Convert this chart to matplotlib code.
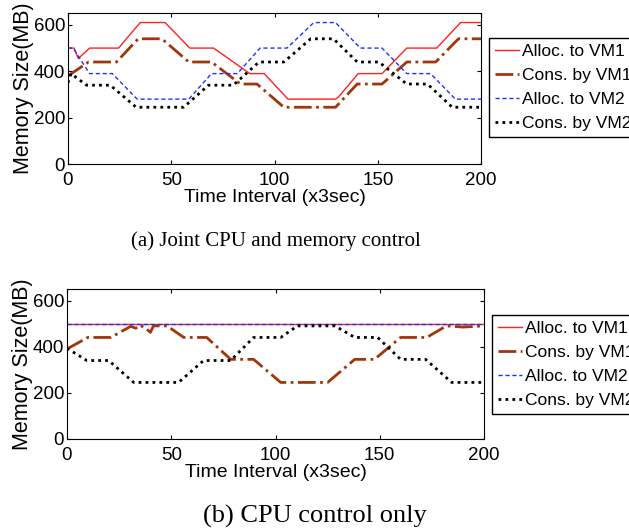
import matplotlib
matplotlib.use('Agg')
import matplotlib.pyplot as plt

plt.rcParams['font.family'] = ['Liberation Sans', 'DejaVu Sans']

labels = ['Alloc. to VM1', 'Cons. by VM1', 'Alloc. to VM2', 'Cons. by VM2']
captions = ['(a) Joint CPU and memory control', '(b) CPU control only']

# (a) joint control: breakpoints (time, MB)
a_alloc1_t = [0, 3, 5, 10.5, 24.5, 35, 47, 59, 70.5, 88, 95, 106.5, 129.5, 131, 140.5, 152, 164, 178.5, 190, 200]
a_alloc1_v = [500, 500, 455, 500, 500, 610, 610, 500, 500, 390, 390, 280, 280, 290, 390, 390, 500, 500, 610, 610]
a_cons1_t = [0, 10, 23.5, 34, 45.5, 58.5, 69.5, 83.5, 91.5, 104.5, 129.5, 140, 152, 164, 178, 189, 200]
a_cons1_v = [380, 440, 440, 540, 540, 440, 440, 345, 345, 245, 245, 345, 345, 440, 440, 540, 540]
a_alloc2_t = [0, 2.5, 10.5, 21.5, 33.5, 58.5, 69.5, 82, 93, 106, 119, 129.5, 141.5, 152, 164, 175.5, 187.5, 200]
a_alloc2_v = [500, 500, 390, 390, 280, 280, 390, 390, 500, 500, 610, 610, 500, 500, 390, 390, 280, 280]
a_cons2_t = [0, 1.5, 9, 20.5, 33, 56, 68, 80, 92.5, 104.5, 117.5, 128.5, 140, 150.5, 164, 174, 186, 200]
a_cons2_v = [350, 390, 340, 340, 245, 245, 340, 340, 440, 440, 540, 540, 440, 440, 345, 345, 245, 245]

# (b) CPU control only
b_alloc1_t = [0, 200]
b_alloc1_v = [500, 500]
b_cons1_t = [0, 10, 21, 30.5, 33, 35, 38, 40, 41.5, 48, 56, 67, 78.5, 89.5, 102.5, 125, 138, 147.5, 160, 172.5, 182, 190, 200]
b_cons1_v = [390, 440, 440, 488, 480, 493, 478, 462, 490, 490, 440, 440, 345, 345, 245, 245, 345, 345, 440, 440, 490, 485, 490]
b_alloc2_t = [0, 200]
b_alloc2_v = [500, 500]
b_cons2_t = [0, 9.5, 20, 32, 53.5, 65.5, 78.5, 89.5, 102.5, 110.5, 128.5, 138, 149, 160, 172, 184.5, 200]
b_cons2_v = [393, 340, 340, 245, 245, 340, 340, 440, 440, 490, 490, 440, 440, 345, 345, 245, 245]

panels = [
    (a_alloc1_t, a_alloc1_v, a_cons1_t, a_cons1_v, a_alloc2_t, a_alloc2_v, a_cons2_t, a_cons2_v),
    (b_alloc1_t, b_alloc1_v, b_cons1_t, b_cons1_v, b_alloc2_t, b_alloc2_v, b_cons2_t, b_cons2_v),
]
axes_pos = [[0.108, 0.691, 0.657, 0.284], [0.1065, 0.1733, 0.663, 0.2825]]
legend_pos = [(0.777, 0.928), (0.782, 0.407)]
caption_pos = [(0.439, 0.546), (0.5, 0.028)]
caption_size = [15, 19]

fig = plt.figure(figsize=(6.29, 5.31), dpi=100)
for i, p in enumerate(panels):
    ax = fig.add_axes(axes_pos[i])
    ax.plot(p[0], p[1], color='#ff2020', lw=1.0, label=labels[0])
    ax.plot(p[2], p[3], color='#a0360a', lw=2.0, ls='-.', label=labels[1])
    ax.plot(p[4], p[5], color='#2030ff', lw=1.0, ls=(0, (3, 2)), label=labels[2])
    ax.plot(p[6], p[7], color='black', lw=2.0, ls=(0, (1, 1.5)), label=labels[3])
    ax.set_xlim(0, 200)
    ax.set_ylim(0, 650)
    ax.set_xticks([0, 50, 100, 150, 200])
    ax.set_yticks([0, 200, 400, 600])
    ax.tick_params(direction='in', top=True, right=True, labelsize=13.5, length=3)
    ax.tick_params(axis='x', pad=6)
    ax.tick_params(axis='y', pad=2)
    ax.set_xlabel('Time Interval (x3sec)', fontsize=14, labelpad=0)
    ax.set_ylabel('Memory Size(MB)', fontsize=15.5, labelpad=0)
    ax.legend(loc='upper left', bbox_to_anchor=legend_pos[i], bbox_transform=fig.transFigure,
              fontsize=12.5, frameon=True, fancybox=False, edgecolor='black',
              handlelength=1.4, handletextpad=0.15, labelspacing=0.5, borderpad=0.35,
              borderaxespad=0, framealpha=1)
    fig.text(caption_pos[i][0], caption_pos[i][1], captions[i], fontsize=caption_size[i],
             family=['Liberation Serif', 'DejaVu Serif'], ha='center', va='center')

fig.savefig('out.png', dpi=100)
